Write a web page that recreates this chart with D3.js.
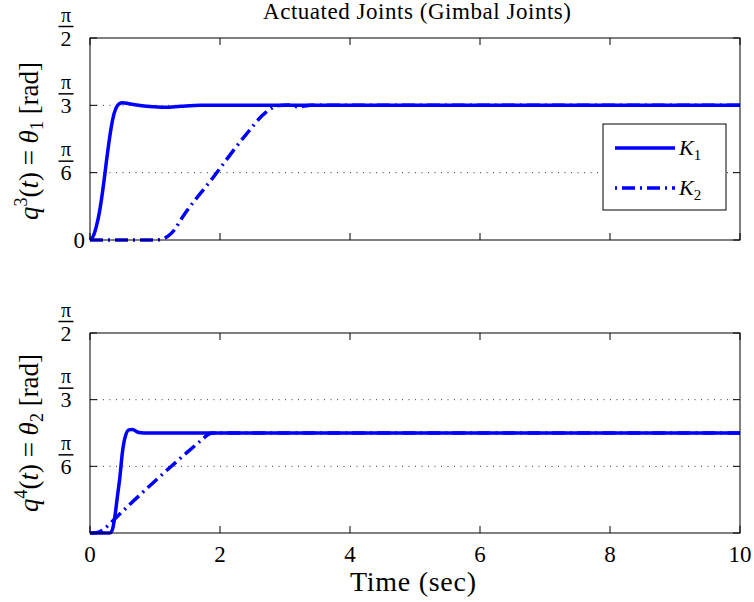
<!DOCTYPE html>
<html>
<head>
<meta charset="utf-8">
<script src="https://cdn.jsdelivr.net/npm/d3@7"></script>
<style>
  body { margin: 0; background: #fff; }
  text { font-family: "Liberation Serif", "Times New Roman", serif; fill: #000; }
</style>
</head>
<body>
<svg id="chart" width="754" height="602"></svg>
<script>
// --- data (time in sec, angle in rad) ---
const k1TopT = [0, 0.05, 0.1, 0.15, 0.2, 0.25, 0.3, 0.35, 0.4, 0.45, 0.5, 0.6, 0.8, 1.0, 1.15, 1.4, 1.7, 2.2, 10];
const k1TopV = [0, 0.03, 0.11, 0.23, 0.40, 0.60, 0.79, 0.94, 1.025, 1.06, 1.068, 1.06, 1.044, 1.036, 1.032, 1.040, 1.047, 1.047, 1.047];
const k2TopT = [0, 1.0, 1.1, 1.2, 1.3, 1.4, 1.9, 2.4, 2.7, 2.9, 3.05, 3.2, 3.4, 10];
const k2TopV = [0, 0, 0.005, 0.03, 0.08, 0.16, 0.49, 0.82, 0.99, 1.045, 1.05, 1.036, 1.047, 1.047];

const k1BotT = [0, 0.3, 0.34, 0.38, 0.42, 0.46, 0.5, 0.55, 0.6, 0.65, 0.75, 0.9, 1.2, 10];
const k1BotV = [0, 0, 0.02, 0.12, 0.28, 0.44, 0.64, 0.77, 0.81, 0.812, 0.79, 0.785, 0.785, 0.785];
const k2BotT = [0, 0.1, 0.2, 0.3, 0.36, 1.75, 1.82, 1.9, 10];
const k2BotV = [0, 0.003, 0.025, 0.07, 0.10, 0.745, 0.775, 0.785, 0.785];

const xTicks = [0, 2, 4, 6, 8, 10];
const yTicks = [0, Math.PI / 6, Math.PI / 3, Math.PI / 2];
const yTickDen = ["", "6", "3", "2"];   // denominators of pi fractions
const gridVals = [Math.PI / 6, Math.PI / 3];
const seriesNames = ["K", "K"];
const seriesSubs = ["1", "2"];

const blue = "rgb(0,0,255)";
const dashDot = "13,5,2,5";

const svg = d3.select("#chart");
const left = 90, right = 740;

const x = d3.scaleLinear().domain([0, 10]).range([left, right]);

function zip(ts, vs) { return ts.map((t, i) => [t, vs[i]]); }

function drawPanel(top, bottom, s1, s2, showZero, showXLabels) {
    const y = d3.scaleLinear().domain([0, Math.PI / 2]).range([bottom, top]);
    const g = svg.append("g");

    // dotted grid
    g.selectAll(".grid").data(gridVals).enter().append("line")
        .attr("x1", left).attr("x2", right)
        .attr("y1", d => y(d)).attr("y2", d => y(d))
        .attr("stroke", "#222").attr("stroke-width", 0.9)
        .attr("stroke-dasharray", "1,5.5");

    // inward ticks on all four sides
    xTicks.forEach(t => {
        g.append("line").attr("x1", x(t)).attr("x2", x(t))
            .attr("y1", bottom).attr("y2", bottom - 7).attr("stroke", "#000");
        g.append("line").attr("x1", x(t)).attr("x2", x(t))
            .attr("y1", top).attr("y2", top + 7).attr("stroke", "#000");
    });
    yTicks.forEach(v => {
        g.append("line").attr("x1", left).attr("x2", left + 7)
            .attr("y1", y(v)).attr("y2", y(v)).attr("stroke", "#000");
        g.append("line").attr("x1", right).attr("x2", right - 7)
            .attr("y1", y(v)).attr("y2", y(v)).attr("stroke", "#000");
    });

    // y tick labels as pi fractions
    yTicks.forEach((v, i) => {
        if (i === 0) {
            if (showZero) {
                g.append("text").attr("x", 85).attr("y", y(v) + 7.5)
                    .attr("text-anchor", "end").attr("font-size", 23).text("0");
            }
            return;
        }
        const fg = g.append("g").attr("transform", `translate(66,${y(v)})`);
        fg.append("text").attr("x", 0).attr("y", -16.5).attr("text-anchor", "middle")
            .attr("font-size", 20).text("\u03c0");
        fg.append("line").attr("x1", -7.5).attr("x2", 7.5).attr("y1", -11.5).attr("y2", -11.5)
            .attr("stroke", "#000").attr("stroke-width", 1.5);
        fg.append("text").attr("x", 0).attr("y", 7.5).attr("text-anchor", "middle")
            .attr("font-size", 22).text(yTickDen[i]);
    });

    if (showXLabels) {
        g.selectAll(".xl").data(xTicks).enter().append("text")
            .attr("x", d => x(d)).attr("y", 562).attr("text-anchor", "middle")
            .attr("font-size", 23).text(d => d);
    }

    const line = d3.line().x(d => x(d[0])).y(d => y(d[1])).curve(d3.curveMonotoneX);

    g.append("path").datum(s2).attr("d", line)
        .attr("fill", "none").attr("stroke", blue).attr("stroke-width", 3.5)
        .attr("stroke-dasharray", dashDot);
    g.append("path").datum(s1).attr("d", line)
        .attr("fill", "none").attr("stroke", blue).attr("stroke-width", 3.5);

    // box
    g.append("rect").attr("x", left).attr("y", top)
        .attr("width", right - left).attr("height", bottom - top)
        .attr("fill", "none").attr("stroke", "#000").attr("stroke-width", 1);
    return { g, y };
}

drawPanel(38, 240, zip(k1TopT, k1TopV), zip(k2TopT, k2TopV), true, false);
drawPanel(333, 533, zip(k1BotT, k1BotV), zip(k2BotT, k2BotV), false, true);

// title
svg.append("text").attr("x", 417).attr("y", 19).attr("text-anchor", "middle")
    .attr("font-size", 23).attr("textLength", 308).text("Actuated Joints (Gimbal Joints)");

// x label
svg.append("text").attr("x", 413).attr("y", 591).attr("text-anchor", "middle")
    .attr("font-size", 28).attr("textLength", 126).text("Time (sec)");

// y labels: q^n(t) = theta_k [rad]
function yLabel(cy, sup, sub) {
    const t = svg.append("text").attr("transform", `translate(38,${cy}) rotate(-90)`)
        .attr("text-anchor", "middle").attr("font-size", 27);
    t.append("tspan").attr("font-style", "italic").text("q");
    t.append("tspan").attr("font-size", 18).attr("dy", -11).text(sup);
    t.append("tspan").attr("dy", 11).text("(");
    t.append("tspan").attr("font-style", "italic").text("t");
    t.append("tspan").text(") = ");
    t.append("tspan").attr("font-style", "italic").text("\u03b8");
    t.append("tspan").attr("font-size", 18).attr("dy", 5).text(sub);
    t.append("tspan").attr("dy", -5).text(" [rad]");
}
yLabel(141, "3", "1");
yLabel(433, "4", "2");

// legend
const lg = svg.append("g").attr("transform", "translate(603,124)");
lg.append("rect").attr("width", 123).attr("height", 86)
    .attr("fill", "#fff").attr("stroke", "#000").attr("stroke-width", 1);
[24, 64].forEach((ly, i) => {
    lg.append("line").attr("x1", 12).attr("x2", 72).attr("y1", ly).attr("y2", ly)
        .attr("stroke", blue).attr("stroke-width", 3.5)
        .attr("stroke-dasharray", i === 1 ? "2,5,13,5" : null);
    const t = lg.append("text").attr("x", 76).attr("y", ly + 7).attr("font-size", 22);
    t.append("tspan").attr("font-style", "italic").text(seriesNames[i]);
    t.append("tspan").attr("font-size", 15).attr("dy", 5).text(seriesSubs[i]);
});
</script>
</body>
</html>
